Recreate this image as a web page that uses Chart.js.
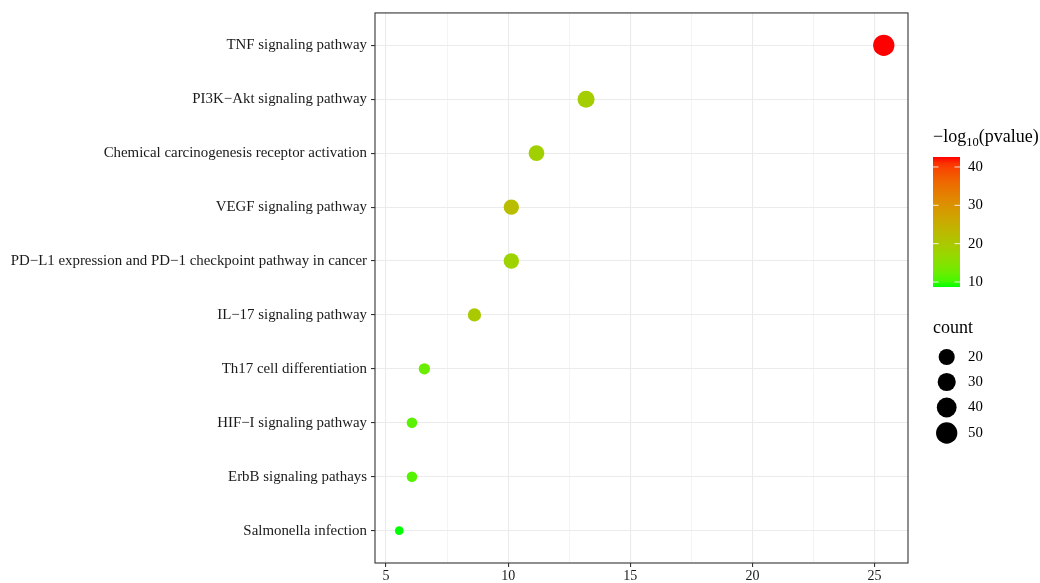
<!DOCTYPE html>
<html>
<head>
<meta charset="utf-8">
<script src="https://cdn.jsdelivr.net/npm/chart.js@4"></script>
<style>
  html, body { margin: 0; padding: 0; background: #fff; }
  canvas { display: block; }
</style>
</head>
<body>
<canvas id="dotPlot" width="1040" height="583"></canvas>
<script>
// pathways, top to bottom
const pathways = [
    'TNF signaling pathway',
    'PI3K\u2212Akt signaling pathway',
    'Chemical carcinogenesis receptor activation',
    'VEGF signaling pathway',
    'PD\u2212L1 expression and PD\u22121 checkpoint pathway in cancer',
    'IL\u221217 signaling pathway',
    'Th17 cell differentiation',
    'HIF\u2212I signaling pathway',
    'ErbB signaling pathays',
    'Salmonella infection'
];
const xValues = [25.38, 13.19, 11.16, 10.13, 10.13, 8.62, 6.57, 6.06, 6.06, 5.54];
const counts = [50, 24, 18, 17, 17, 10, 6, 5, 5, 4];
const logP = [42.6, 18.9, 18.5, 22.3, 18.0, 20.0, 12.5, 11.4, 11.0, 8.7];

const xTicks = [5, 7.5, 10, 12.5, 15, 17.5, 20, 22.5, 25];
const colorTicks = [10, 20, 30, 40];
const countBreaks = [20, 30, 40, 50];

const FONT = '"Liberation Serif", "Times New Roman", serif';

// --- colour: ggplot style gradient green -> red in Lab space ---
function toLab(hex) {
    const c = [1, 3, 5].map(i => parseInt(hex.substr(i, 2), 16) / 255)
        .map(v => v <= 0.04045 ? v / 12.92 : Math.pow((v + 0.055) / 1.055, 2.4));
    const X = (0.4124 * c[0] + 0.3576 * c[1] + 0.1805 * c[2]) / 0.95047;
    const Y = 0.2126 * c[0] + 0.7152 * c[1] + 0.0722 * c[2];
    const Z = (0.0193 * c[0] + 0.1192 * c[1] + 0.9505 * c[2]) / 1.08883;
    const f = t => t > 0.008856 ? Math.cbrt(t) : 7.787 * t + 16 / 116;
    return [116 * f(Y) - 16, 500 * (f(X) - f(Y)), 200 * (f(Y) - f(Z))];
}
function labToRgb(L, a, b) {
    const fy = (L + 16) / 116, fx = fy + a / 500, fz = fy - b / 200;
    const inv = t => t > 0.206893 ? t * t * t : (t - 16 / 116) / 7.787;
    const X = inv(fx) * 0.95047, Y = inv(fy), Z = inv(fz) * 1.08883;
    const lin = [
        3.2406 * X - 1.5372 * Y - 0.4986 * Z,
        -0.9689 * X + 1.8758 * Y + 0.0415 * Z,
        0.0557 * X - 0.2040 * Y + 1.0570 * Z
    ];
    const rgb = lin.map(v => {
        v = Math.min(1, Math.max(0, v));
        v = v <= 0.0031308 ? 12.92 * v : 1.055 * Math.pow(v, 1 / 2.4) - 0.055;
        return Math.round(v * 255);
    });
    return 'rgb(' + rgb.join(',') + ')';
}
const lowLab = toLab('#00FF00');
const highLab = toLab('#FF0000');
const pMin = Math.min(...logP), pMax = Math.max(...logP);
function colorFor(v) {
    const t = Math.min(1, Math.max(0, (v - pMin) / (pMax - pMin)));
    return labToRgb(
        lowLab[0] + (highLab[0] - lowLab[0]) * t,
        lowLab[1] + (highLab[1] - lowLab[1]) * t,
        lowLab[2] + (highLab[2] - lowLab[2]) * t
    );
}

// --- size: area scale like ggplot ---
const cMin = Math.min(...counts), cMax = Math.max(...counts);
function radiusFor(c) {
    const s = Math.sqrt(Math.max(0, (c - cMin) / (cMax - cMin)));
    return (8.7 + (21.3 - 8.7) * s) / 2;
}

const xMinData = Math.min(...xValues), xMaxData = Math.max(...xValues);
const xPad = (xMaxData - xMinData) * 0.05;

const points = pathways.map((p, i) => ({ x: xValues[i], y: i, r: radiusFor(counts[i]) }));

const panelBorder = {
    id: 'panelBorder',
    afterDatasetsDraw(chart) {
        const { ctx, chartArea: a } = chart;
        ctx.save();
        ctx.strokeStyle = '#333333';
        ctx.lineWidth = 1.1;
        ctx.strokeRect(a.left, a.top, a.right - a.left, a.bottom - a.top);
        ctx.restore();
    }
};

const sideLegend = {
    id: 'sideLegend',
    afterDraw(chart) {
        const ctx = chart.ctx;
        ctx.save();
        ctx.fillStyle = '#000';
        ctx.textBaseline = 'alphabetic';

        // colour bar title: -log10(pvalue)
        let x = 933;
        ctx.font = '18px ' + FONT;
        ctx.fillText('\u2212log', x, 142);
        x += ctx.measureText('\u2212log').width;
        ctx.font = '12.5px ' + FONT;
        ctx.fillText('10', x, 146);
        x += ctx.measureText('10').width;
        ctx.font = '18px ' + FONT;
        ctx.fillText('(pvalue)', x, 142);

        // colour bar
        const barL = 933, barW = 27, barTop = 157, barBot = 287;
        const grad = ctx.createLinearGradient(0, barBot, 0, barTop);
        for (let i = 0; i <= 20; i++) {
            grad.addColorStop(i / 20, colorFor(pMin + (pMax - pMin) * i / 20));
        }
        ctx.fillStyle = grad;
        ctx.fillRect(barL, barTop, barW, barBot - barTop);

        ctx.font = '14.8px ' + FONT;
        ctx.textBaseline = 'middle';
        colorTicks.forEach(v => {
            const y = barBot - (v - pMin) / (pMax - pMin) * (barBot - barTop);
            ctx.strokeStyle = 'rgba(255,255,255,0.85)';
            ctx.lineWidth = 1;
            ctx.beginPath();
            ctx.moveTo(barL, y); ctx.lineTo(barL + 5.5, y);
            ctx.moveTo(barL + barW - 5.5, y); ctx.lineTo(barL + barW, y);
            ctx.stroke();
            ctx.fillStyle = '#000';
            ctx.fillText(String(v), 968, y);
        });

        // size legend
        ctx.textBaseline = 'alphabetic';
        ctx.font = '18px ' + FONT;
        ctx.fillText('count', 933, 333);
        ctx.font = '14.8px ' + FONT;
        ctx.textBaseline = 'middle';
        const rowY = [357, 382, 407.5, 433];
        countBreaks.forEach((c, i) => {
            ctx.fillStyle = '#000';
            ctx.beginPath();
            ctx.arc(946.7, rowY[i], radiusFor(c), 0, Math.PI * 2);
            ctx.fill();
            ctx.fillText(String(c), 968, rowY[i]);
        });
        ctx.restore();
    }
};

const config = {
    type: 'bubble',
    data: {
        datasets: [{
            data: points,
            backgroundColor: logP.map(colorFor),
            borderWidth: 0,
            hoverBorderWidth: 0
        }]
    },
    options: {
        responsive: false,
        animation: false,
        devicePixelRatio: 1,
        layout: { padding: { top: 12, right: 132, bottom: 0, left: 0 } },
        scales: {
            x: {
                type: 'linear',
                min: xMinData - xPad,
                max: xMaxData + xPad,
                afterBuildTicks: scale => { scale.ticks = xTicks.map(v => ({ value: v })); },
                afterFit: scale => { scale.height = 20; },
                border: { display: false },
                grid: {
                    color: '#ebebeb',
                    lineWidth: c => (c.tick && c.tick.value % 5 === 0) ? 1.1 : 0.55,
                    tickColor: c => (c.tick && c.tick.value % 5 === 0) ? '#333333' : 'rgba(0,0,0,0)',
                    tickLength: 4,
                    tickWidth: 1.1
                },
                ticks: {
                    autoSkip: false,
                    maxRotation: 0,
                    padding: 1,
                    color: '#1a1a1a',
                    font: { family: FONT, size: 14 },
                    callback: v => (v % 5 === 0 ? v : '')
                }
            },
            y: {
                type: 'linear',
                reverse: true,
                min: -0.6,
                max: pathways.length - 0.4,
                afterBuildTicks: scale => { scale.ticks = pathways.map((p, i) => ({ value: i })); },
                afterFit: scale => { scale.width = 375; },
                border: { display: false },
                grid: {
                    color: '#ebebeb',
                    lineWidth: 1.1,
                    tickColor: '#333333',
                    tickLength: 4,
                    tickWidth: 1.1
                },
                ticks: {
                    autoSkip: false,
                    padding: 4,
                    color: '#1a1a1a',
                    font: { family: FONT, size: 14.9 },
                    callback: v => pathways[v]
                }
            }
        },
        plugins: {
            legend: { display: false },
            tooltip: { enabled: false }
        }
    },
    plugins: [panelBorder, sideLegend]
};

new Chart(document.getElementById('dotPlot').getContext('2d'), config);
</script>
</body>
</html>
